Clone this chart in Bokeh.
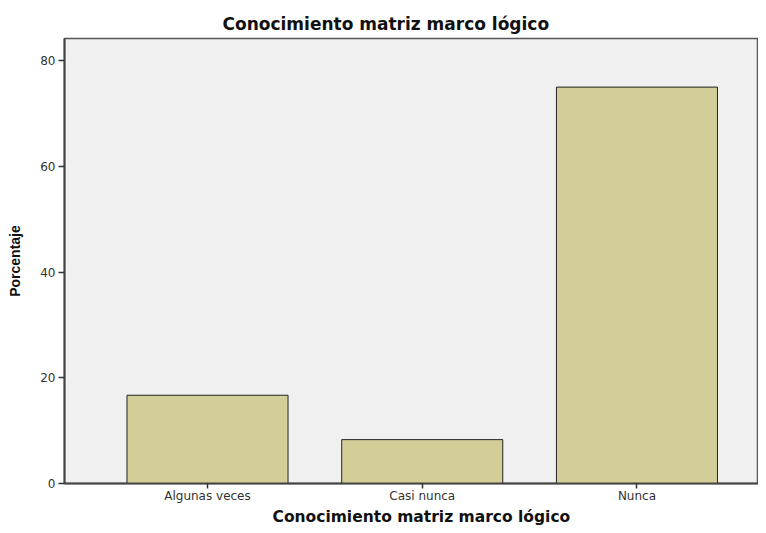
from bokeh.plotting import figure
from bokeh.models import FixedTicker, Range1d, Title
from bokeh.embed import file_html
from bokeh.resources import INLINE

categories = ["Algunas veces", "Casi nunca", "Nunca"]
percentages = [16.7, 8.3, 75.0]
y_ticks = [0, 20, 40, 60, 80]
chart_title = "Conocimiento matriz marco lógico"
x_title = "Conocimiento matriz marco lógico"
y_title = "Porcentaje"

xs = list(range(1, len(categories) + 1))

p = figure(width=758, height=525, output_backend="svg", toolbar_location=None,
           x_range=Range1d(0.334, 3.566), y_range=Range1d(0, 84.2),
           min_border_left=64, min_border_right=0, min_border_top=38, min_border_bottom=0)

p.vbar(x=xs, top=percentages, width=0.75, fill_color="#d3ce98",
       line_color="#222222", line_width=1)

p.background_fill_color = "#f0f0f0"
p.border_fill_color = "white"
p.outline_line_color = "#555555"
p.outline_line_width = 1.5
p.xgrid.visible = False
p.ygrid.visible = False

p.title.text = chart_title
p.title.text_font = "DejaVu Sans"
p.title.text_font_size = "17px"
p.title.text_font_style = "bold"
p.title.align = "left"
p.title.offset = 158
p.title.text_color = "#111111"
p.title.standoff = 10

p.xaxis.ticker = FixedTicker(ticks=xs)
p.xaxis.major_label_overrides = {x: c for x, c in zip(xs, categories)}
p.yaxis.ticker = FixedTicker(ticks=y_ticks)

for ax in (p.xaxis[0], p.yaxis[0]):
    ax.axis_line_color = "#444444"
    ax.axis_line_width = 2
    ax.major_tick_line_color = "#333333"
    ax.major_tick_line_width = 1.5
    ax.major_tick_out = 6
    ax.major_tick_in = 0
    ax.minor_tick_line_color = None
    ax.major_label_text_font = "DejaVu Sans"
    ax.major_label_text_font_size = "12px"
    ax.major_label_text_color = "#333333"
    ax.axis_label_text_font_style = "bold"
    ax.axis_label_text_color = "#111111"

p.xaxis.major_tick_out = 5
p.xaxis.major_label_standoff = 0
p.yaxis.axis_label = y_title
p.yaxis.axis_label_text_font = "Liberation Sans"
p.yaxis.axis_label_text_font_size = "14px"
p.yaxis.major_label_standoff = 3
p.yaxis.axis_label_standoff = 14

xlab = Title(text=x_title, align="left", offset=208,
             text_font="DejaVu Sans", text_font_size="15.5px",
             text_font_style="bold", text_color="#111111", standoff=0,
             text_line_height=0.78)
p.add_layout(xlab, "below")

open("out.html", "w").write(file_html(p, INLINE))
